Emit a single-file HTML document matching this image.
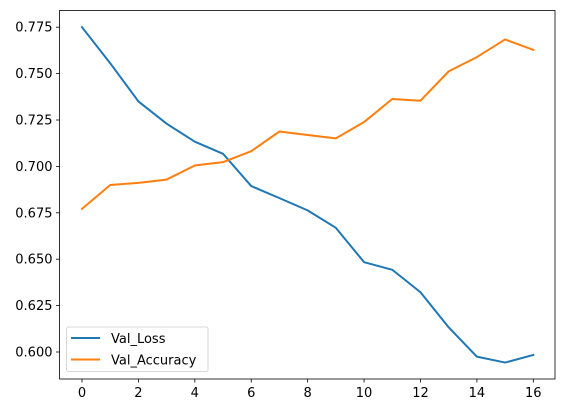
<!DOCTYPE html>
<html><head><meta charset="utf-8"><style>
html,body{margin:0;padding:0;background:#fff;}
svg text{font-family:"DejaVu Sans","Liberation Sans",sans-serif;font-size:13px;fill:#000;}
</style></head><body>
<svg id="chart" width="565" height="413" xmlns="http://www.w3.org/2000/svg">
<rect width="565" height="413" fill="#fff"/>
<g id="plot"></g>
</svg>
<script>
const epochs = [0,1,2,3,4,5,6,7,8,9,10,11,12,13,14,15,16];
const valLoss = [0.775,0.7556,0.7350,0.7230,0.7133,0.7068,0.6894,0.6829,0.6763,0.6669,0.6484,0.6443,0.6322,0.6133,0.5975,0.5943,0.5984];
const valAccuracy = [0.6771,0.6900,0.6911,0.6929,0.7005,0.7023,0.7082,0.7188,0.7169,0.7151,0.7239,0.7363,0.7354,0.7512,0.7589,0.7684,0.7628];
const xTicks = [0,2,4,6,8,10,12,14,16];
const yTicks = [0.600,0.625,0.650,0.675,0.700,0.725,0.750,0.775];

const NS='http://www.w3.org/2000/svg';
const L=59.5,R=555,T=10.5,B=379;
function xs(v){return 82+(v-0)*(533.3-82)/16;}
function ys(v){return 352+(0.6-v)*(46.4/0.025);}
const g=document.getElementById('plot');
function mk(tag,attrs){const e=document.createElementNS(NS,tag);for(const k in attrs)e.setAttribute(k,attrs[k]);g.appendChild(e);return e;}

xTicks.forEach(t=>{
  const l=mk('line',{x1:xs(t),x2:xs(t),y1:B,y2:B+3.5,stroke:'#000','stroke-width':0.8});
  
  
  const tx=mk('text',{x:xs(t),y:B+18,'text-anchor':'middle'});
  tx.textContent=String(t);
  
  
});
yTicks.forEach(t=>{
  const l=mk('line',{x1:L-3.5,x2:L,y1:ys(t),y2:ys(t),stroke:'#000','stroke-width':0.8});
  
  
  const tx=mk('text',{x:L-7,y:ys(t)+4.5,'text-anchor':'end'});
  tx.textContent=t.toFixed(3);
  
  
});
function line(data,color,name){
  const p=mk('polyline',{points:data.map((v,i)=>xs(epochs[i])+','+ys(v)).join(' '),fill:'none',stroke:color,'stroke-width':2,'stroke-linejoin':'round','stroke-linecap':'square'});
  
  
}
line(valLoss,'#1f77b4','val-loss-line');
line(valAccuracy,'#ff7f0e','val-accuracy-line');
const fr=mk('rect',{x:L,y:T,width:R-L,height:B-T,fill:'none',stroke:'#000','stroke-width':0.8});


const lg=mk('rect',{x:66.5,y:327,width:141.5,height:44.5,rx:2,fill:'#fff','fill-opacity':0.8,stroke:'#ccc','stroke-width':0.8});


[['Val_Loss','#1f77b4',338],['Val_Accuracy','#ff7f0e',359.5]].forEach(([n,c,y])=>{
  const l=mk('line',{x1:71,x2:100,y1:y,y2:y,stroke:c,'stroke-width':2});
  
  
  const t=mk('text',{x:111,y:y+5});
  t.textContent=n;
  
  
});
</script>
</body></html>
